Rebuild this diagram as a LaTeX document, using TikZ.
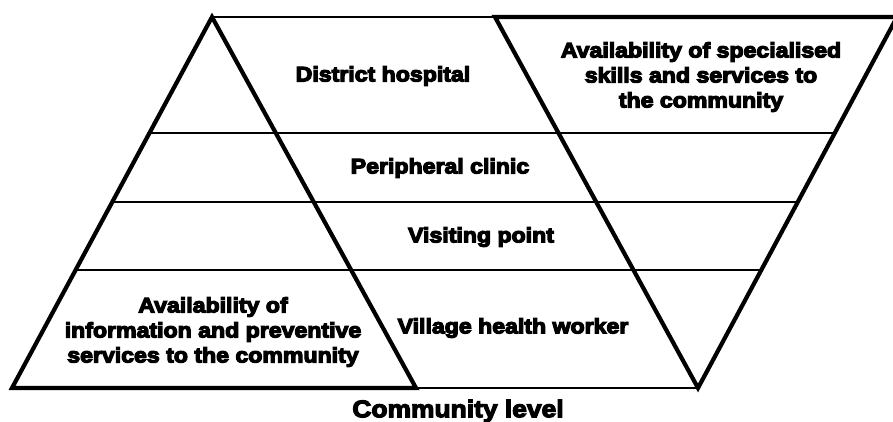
\documentclass[tikz,border=0pt]{standalone}
\usepackage{fontspec}
\newfontfamily\heavy{Liberation Sans}[UprightFont={* Bold}, FakeStretch=1.1]
\newcommand\inked[1]{\special{pdf:literal direct 2 Tr 1.2 w}#1\special{pdf:literal direct 0 Tr}}
\usetikzlibrary{calc}
\begin{document}
\begin{tikzpicture}[x=1pt, y=-1pt,
  thick edge/.style={line width=4.2pt, line join=miter},
  thin edge/.style={line width=2pt},
  label text/.style={font=\heavy\fontsize{21}{25}\selectfont, align=center, inner sep=0pt},
  title text/.style={font=\heavy\fontsize{24}{28}\selectfont, inner sep=0pt}]
  \useasboundingbox (0,0) rectangle (893,421);
  \clip (0,0) rectangle (893,421);

  % upright pyramid (information and prevention)
  \coordinate (A)  at (212,17);
  \coordinate (BL) at (12,388);
  \coordinate (BR) at (416,388);
  % inverted pyramid (specialised skills)
  \coordinate (TL) at (495,17);
  \coordinate (TR) at (897,17);
  \coordinate (V)  at (698,388);

  % level dividers running across both pyramids
  \foreach \t/\n in {0.3127/1, 0.4987/2, 0.6819/3}{
    \coordinate (L\n) at ($(A)!\t!(BL)$);
    \coordinate (R\n) at ($(TR)!\t!(V)$);
    \draw[thin edge] (L\n) -- (R\n);
  }
  \draw[thin edge] (A) -- (TL);
  \draw[thin edge] (BR) -- (V);

  \draw[thick edge] (A) -- (BL) -- (BR) -- cycle;
  \draw[thick edge] (TL) -- (TR) -- (V) -- cycle;

  % labels
  \node[label text] (hosp)   at (383,76)  {\inked{District hospital}};
  \node[label text] (spec)   at (701,77)  {\inked{Availability of specialised}\\\inked{skills and services to}\\\inked{the community}};
  \node[label text] (clinic) at (440,168) {\inked{Peripheral clinic}};
  \node[label text] (visit)  at (481,237) {\inked{Visiting point}};
  \node[label text] (vhw)    at (513,328) {\inked{Village health worker}};
  \node[label text] (info)   at (213,332) {\inked{Availability of}\\\inked{information and preventive}\\\inked{services to the community}};
  \node[title text] (comm)   at (458,411) {\inked{Community level}};
\end{tikzpicture}
\end{document}
